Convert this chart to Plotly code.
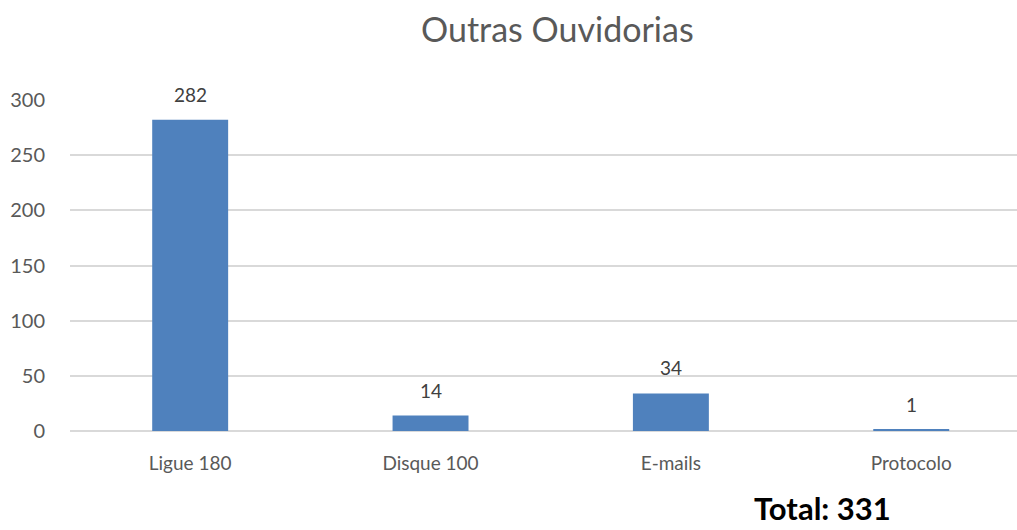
import plotly.graph_objects as go

categories = ["Ligue 180", "Disque 100", "E-mails", "Protocolo"]
values = [282, 14, 34, 1]
y_ticks = [0, 50, 100, 150, 200, 250, 300]
title_text = "Outras Ouvidorias"
total_text = "Total: 331"

FONT = "Lato, Open Sans, sans-serif"

fig = go.Figure()
fig.add_trace(go.Bar(
    x=categories, y=values,
    marker=dict(color="#4F81BD", line=dict(width=0)),
    width=0.316,
    hoverinfo="skip",
))

for c, v in zip(categories, values):
    fig.add_annotation(x=c, y=v, text=str(v), showarrow=False,
                       yanchor="bottom", yshift=12,
                       font=dict(family=FONT, size=19, color="#404040"))

fig.add_annotation(xref="paper", yref="paper", x=0.721, y=-0.232,
                   text="<b>" + total_text + "</b>", showarrow=False,
                   xanchor="left", yanchor="middle", borderpad=0,
                   font=dict(family=FONT, size=31, color="#000000"))

fig.update_layout(
    width=1017, height=530,
    margin=dict(l=70, r=0, t=100, b=99),
    paper_bgcolor="white", plot_bgcolor="white",
    showlegend=False,
    title=dict(text=title_text, x=0.548, xanchor="center", y=0.943, yanchor="middle",
               font=dict(family=FONT, size=34, color="#595959")),
    xaxis=dict(range=[-0.5, 3.44], showgrid=False, showline=False, ticks="",
               automargin=False, ticklabelstandoff=19,
               tickfont=dict(family=FONT, size=19, color="#595959"), fixedrange=True),
    yaxis=dict(range=[0, 300], tickvals=y_ticks, showgrid=True, gridcolor="#D9D9D9",
               gridwidth=1.5, zeroline=True, zerolinecolor="#D9D9D9", zerolinewidth=1.5,
               showline=False, ticks="", ticklabelstandoff=24, automargin=False,
               tickfont=dict(family=FONT, size=20, color="#595959")),
)

fig.write_html("out.html", config={"displayModeBar": False},
               post_script="document.body.style.margin='0';document.body.style.overflow='hidden';")
